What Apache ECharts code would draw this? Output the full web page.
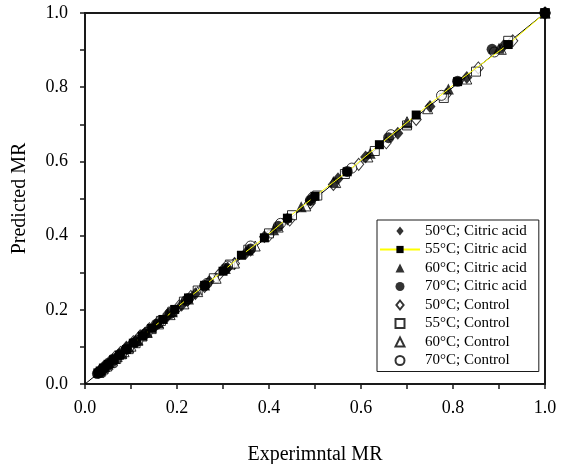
<!DOCTYPE html>
<html>
<head>
<meta charset="utf-8">
<script src="https://cdn.jsdelivr.net/npm/echarts@6/dist/echarts.min.js"></script>
<style>
  html, body { margin: 0; padding: 0; background: #fff; }
  #chart { width: 562px; height: 464px; }
</style>
</head>
<body>
<div id="chart"></div>
<script>
const exp50CA = [1.0, 0.91, 0.83, 0.75, 0.68, 0.61, 0.55, 0.49, 0.44, 0.39, 0.35, 0.31, 0.27, 0.24, 0.21, 0.18, 0.155, 0.13, 0.11, 0.09, 0.075, 0.06, 0.05, 0.04, 0.034, 0.029];
const pred50CA = [1.0, 0.912, 0.826, 0.748, 0.676, 0.612, 0.553, 0.496, 0.445, 0.397, 0.353, 0.313, 0.276, 0.243, 0.212, 0.184, 0.16, 0.137, 0.116, 0.097, 0.08, 0.065, 0.052, 0.041, 0.036, 0.032];

const exp55CA = [1.0, 0.92, 0.81, 0.72, 0.64, 0.57, 0.5, 0.44, 0.39, 0.34, 0.3, 0.26, 0.225, 0.195, 0.17, 0.145, 0.125, 0.105, 0.09, 0.075, 0.062, 0.05, 0.04, 0.033, 0.028];
const pred55CA = [1.0, 0.915, 0.815, 0.725, 0.645, 0.572, 0.506, 0.447, 0.394, 0.347, 0.304, 0.266, 0.232, 0.201, 0.174, 0.15, 0.129, 0.11, 0.093, 0.078, 0.065, 0.053, 0.043, 0.035, 0.03];

const exp60CA = [1.0, 0.9, 0.79, 0.7, 0.62, 0.54, 0.47, 0.41, 0.355, 0.305, 0.26, 0.225, 0.19, 0.16, 0.135, 0.115, 0.095, 0.08, 0.065, 0.053, 0.043, 0.035, 0.03];
const pred60CA = [1.0, 0.905, 0.795, 0.704, 0.622, 0.546, 0.478, 0.416, 0.361, 0.311, 0.267, 0.229, 0.195, 0.166, 0.14, 0.118, 0.099, 0.083, 0.069, 0.057, 0.047, 0.038, 0.031];

const exp70CA = [1.0, 0.885, 0.81, 0.66, 0.57, 0.49, 0.42, 0.36, 0.305, 0.26, 0.22, 0.185, 0.155, 0.13, 0.11, 0.09, 0.075, 0.062, 0.05, 0.04, 0.033, 0.027];
const pred70CA = [1.0, 0.902, 0.816, 0.664, 0.573, 0.495, 0.425, 0.364, 0.311, 0.265, 0.225, 0.19, 0.161, 0.135, 0.113, 0.094, 0.078, 0.064, 0.052, 0.042, 0.034, 0.028];

const exp50C = [1.0, 0.93, 0.855, 0.785, 0.72, 0.655, 0.595, 0.54, 0.49, 0.445, 0.4, 0.36, 0.325, 0.29, 0.26, 0.23, 0.205, 0.18, 0.16, 0.14, 0.12, 0.105, 0.09, 0.077, 0.065, 0.055, 0.046, 0.038];
const pred50C = [1.0, 0.925, 0.852, 0.78, 0.713, 0.65, 0.592, 0.538, 0.488, 0.442, 0.4, 0.361, 0.325, 0.293, 0.263, 0.236, 0.211, 0.188, 0.168, 0.149, 0.13, 0.114, 0.099, 0.085, 0.073, 0.062, 0.052, 0.043];

const exp55C = [1.0, 0.92, 0.85, 0.78, 0.7, 0.63, 0.565, 0.505, 0.45, 0.4, 0.355, 0.315, 0.28, 0.245, 0.215, 0.19, 0.165, 0.145, 0.125, 0.11, 0.095, 0.08, 0.068, 0.058, 0.048, 0.04, 0.034];
const pred55C = [1.0, 0.925, 0.842, 0.771, 0.697, 0.628, 0.566, 0.508, 0.455, 0.406, 0.362, 0.322, 0.285, 0.252, 0.222, 0.195, 0.17, 0.148, 0.128, 0.11, 0.094, 0.08, 0.068, 0.057, 0.047, 0.039, 0.032];

const exp60C = [1.0, 0.905, 0.83, 0.745, 0.7, 0.615, 0.545, 0.48, 0.42, 0.37, 0.325, 0.285, 0.245, 0.215, 0.185, 0.16, 0.135, 0.115, 0.1, 0.085, 0.07, 0.06, 0.05, 0.04, 0.032];
const pred60C = [1.0, 0.902, 0.822, 0.742, 0.707, 0.612, 0.543, 0.48, 0.423, 0.372, 0.326, 0.285, 0.249, 0.216, 0.187, 0.162, 0.139, 0.119, 0.102, 0.087, 0.074, 0.062, 0.052, 0.043, 0.036];

const exp70C = [1.0, 0.89, 0.775, 0.665, 0.58, 0.495, 0.425, 0.36, 0.31, 0.265, 0.225, 0.19, 0.16, 0.135, 0.115, 0.095, 0.08, 0.067, 0.055, 0.045, 0.037, 0.03];
const pred70C = [1.0, 0.895, 0.778, 0.672, 0.582, 0.503, 0.433, 0.372, 0.318, 0.271, 0.23, 0.195, 0.165, 0.139, 0.117, 0.098, 0.082, 0.068, 0.056, 0.046, 0.038, 0.031];

// 1:1 line
const lineX = [0, 1];
const lineY = [0, 1];

const seriesNames = [
  '50°C; Citric acid', '55°C; Citric acid', '60°C; Citric acid', '70°C; Citric acid',
  '50°C; Control', '55°C; Control', '60°C; Control', '70°C; Control'
];

const zip = (a, b) => a.map((v, i) => [v, b[i]]);

const font = 'Liberation Serif';
const ink = '#1a1a1a';

const filled = { color: '#000' };
const hollow = { color: '#fff', borderColor: '#000', borderWidth: 1 };

// legend icons as paths so they keep their shape inside a wide item box
const icons = {
  diamond: 'path://M4,0L8,5L4,10L0,5Z',
  rect: 'path://M0,0H10V10H0Z',
  triangle: 'path://M5,0L10,10L0,10Z',
  circle: 'path://M5,0A5,5,0,1,1,5,10A5,5,0,1,1,5,0Z'
};
const legendIcons = [icons.diamond, null, icons.triangle, icons.circle,
  icons.diamond, icons.rect, icons.triangle, icons.circle];

const chart = echarts.init(document.getElementById('chart'));

const option = {
  animation: false,
  textStyle: { fontFamily: font, color: '#000' },
  grid: {
    left: 85, right: 17, top: 13, bottom: 80,
    outerBoundsMode: 'none', containLabel: false,
    show: true, borderColor: ink, borderWidth: 2, backgroundColor: 'transparent'
  },
  legend: {
    orient: 'vertical',
    left: 377, top: 220,
    data: seriesNames.map((n, i) => legendIcons[i] ? { name: n, icon: legendIcons[i] } : { name: n }),
    itemWidth: 40, itemHeight: 9, itemGap: 0.5,
    symbolKeepAspect: true,
    padding: [2, 12, 2, 2],
    backgroundColor: '#fff',
    borderColor: ink, borderWidth: 1,
    textStyle: { fontFamily: font, fontSize: 15, color: '#000', lineHeight: 18 }
  },
  xAxis: {
    type: 'value', min: 0, max: 1, interval: 0.2,
    name: 'Experimntal MR', nameLocation: 'middle', nameGap: 61,
    nameTextStyle: { fontFamily: font, fontSize: 20, color: '#000' },
    axisLine: { show: true, lineStyle: { color: ink, width: 2 } },
    axisTick: { show: true, inside: false, length: 5, lineStyle: { color: ink, width: 1.5 } },
    minorTick: { show: true, splitNumber: 2, length: 5, lineStyle: { color: ink, width: 1.5 } },
    axisLabel: { margin: 15, fontFamily: font, fontSize: 18, color: '#000', formatter: v => v.toFixed(1) },
    splitLine: { show: false }
  },
  yAxis: {
    type: 'value', min: 0, max: 1, interval: 0.2,
    name: 'Predicted MR', nameLocation: 'middle', nameGap: 55,
    nameTextStyle: { fontFamily: font, fontSize: 20, color: '#000' },
    axisLine: { show: true, lineStyle: { color: ink, width: 2 } },
    axisTick: { show: true, inside: false, length: 5, lineStyle: { color: ink, width: 1.5 } },
    minorTick: { show: true, splitNumber: 2, length: 5, lineStyle: { color: ink, width: 1.5 } },
    axisLabel: { margin: 17, fontFamily: font, fontSize: 18, color: '#000', formatter: v => v.toFixed(1) },
    splitLine: { show: false }
  },
  series: [
    {
      name: '1:1', type: 'line', data: zip(lineX, lineY), symbol: 'none', silent: true,
      lineStyle: { color: '#000', width: 1 }, z: 1
    },
    {
      name: seriesNames[4], type: 'scatter', data: zip(exp50C, pred50C),
      symbol: 'diamond', symbolSize: [10, 12], itemStyle: hollow
    },
    {
      name: seriesNames[5], type: 'scatter', data: zip(exp55C, pred55C),
      symbol: 'rect', symbolSize: 9, itemStyle: hollow
    },
    {
      name: seriesNames[6], type: 'scatter', data: zip(exp60C, pred60C),
      symbol: 'triangle', symbolSize: 10, itemStyle: hollow
    },
    {
      name: seriesNames[7], type: 'scatter', data: zip(exp70C, pred70C),
      symbol: 'circle', symbolSize: 10, itemStyle: hollow
    },
    {
      name: seriesNames[0], type: 'scatter', data: zip(exp50CA, pred50CA),
      symbol: 'diamond', symbolSize: [11, 13], itemStyle: filled
    },
    {
      name: seriesNames[2], type: 'scatter', data: zip(exp60CA, pred60CA),
      symbol: 'triangle', symbolSize: 11, itemStyle: filled
    },
    {
      name: seriesNames[3], type: 'scatter', data: zip(exp70CA, pred70CA),
      symbol: 'circle', symbolSize: 11, itemStyle: filled
    },
    {
      name: seriesNames[1], type: 'line', data: zip(exp55CA, pred55CA),
      symbol: 'rect', symbolSize: 9, showAllSymbol: true, z: 3,
      itemStyle: filled, lineStyle: { color: '#ffff00', width: 1 }
    }
  ]
};

chart.setOption(option);
</script>
</body>
</html>
